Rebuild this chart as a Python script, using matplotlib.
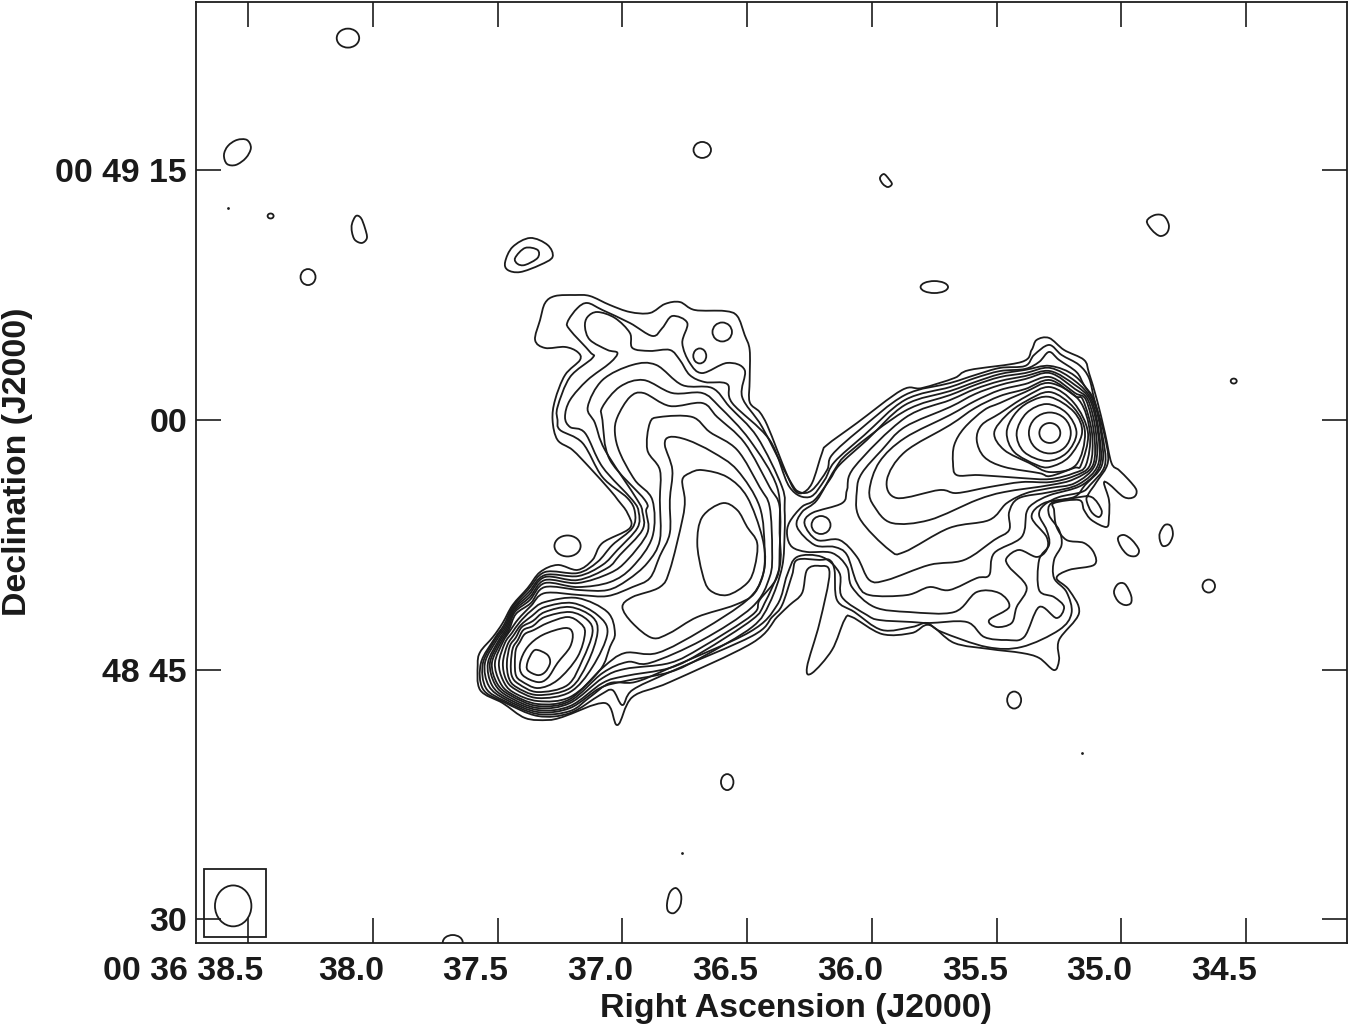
#!/usr/bin/env python3
import numpy as np
import matplotlib
matplotlib.use('Agg')
import matplotlib.pyplot as plt
from matplotlib.path import Path
from matplotlib.patches import PathPatch, Ellipse, Rectangle
from matplotlib.transforms import ScaledTranslation

plt.rcParams['font.family'] = ['Liberation Sans', 'DejaVu Sans']
plt.rcParams['font.weight'] = 'bold'

# isophotes: (RA seconds past 00 36, Dec arcsec from 00 49 00)
# the three outer levels run round both lobes
LEVEL_1 = [(37.31,7.03),(37.27,7.45),(37.19,7.51),(37.13,7.45),(37.05,6.91),(36.97,6.49),(36.89,6.43),(36.83,6.97),(36.77,7.09),(36.71,6.61),(36.59,6.55),(36.54,6.25),(36.51,5.11),(36.49,4.21),(36.49,2.40),(36.49,1.08),(36.45,0.48),(36.42,-0.30),(36.38,-1.80),(36.34,-3.31),(36.31,-4.21),(36.28,-4.39),(36.24,-3.79),(36.20,-1.98),(36.18,-1.50),(36.06,-0.18),(35.88,1.80),(35.80,1.92),(35.67,2.52),(35.61,3.00),(35.40,3.49),(35.36,4.21),(35.34,4.81),(35.29,4.93),(35.23,4.21),(35.15,3.61),(35.13,2.82),(35.098,1.20),(35.066,-0.78),(35.04,-2.58),(35.01,-3.01),(34.97,-3.61),(34.94,-4.21),(34.95,-4.63),(34.99,-4.63),(35.05,-3.85),(35.07,-3.79),(35.05,-4.81),(35.05,-5.83),(35.06,-6.43),(35.12,-6.01),(35.15,-5.41),(35.17,-4.81),(35.27,-4.99),(35.27,-5.41),(35.26,-6.43),(35.22,-7.21),(35.15,-7.39),(35.11,-7.99),(35.11,-8.71),(35.21,-9.01),(35.26,-9.50),(35.21,-10.22),(35.17,-11.60),(35.25,-13.22),(35.25,-14.42),(35.27,-15.03),(35.33,-14.30),(35.40,-14.00),(35.53,-13.76),(35.67,-13.40),(35.77,-12.32),(35.84,-12.80),(35.96,-12.86),(36.08,-11.84),(36.11,-12.02),(36.16,-13.82),(36.24,-15.21),(36.26,-14.84),(36.21,-12.20),(36.17,-9.20),(36.21,-8.77),(36.26,-9.01),(36.28,-10.40),(36.33,-11.12),(36.38,-11.84),(36.48,-13.40),(36.81,-15.75),(36.96,-16.65),(37.02,-18.33),(37.07,-17.01),(37.24,-17.85),(37.30,-18.03),(37.39,-17.91),(37.48,-17.01),(37.57,-16.23),(37.58,-14.72),(37.57,-13.94),(37.519,-13.04),(37.48,-12.20),(37.44,-11.12),(37.38,-10.10),(37.33,-9.14),(37.26,-8.71),(37.18,-9.01),(37.12,-8.41),(37.08,-7.39),(36.97,-6.49),(36.98,-5.59),(37.018,-4.81),(37.05,-4.21),(37.13,-2.88),(37.20,-1.80),(37.26,-1.20),(37.28,0.0),(37.27,1.20),(37.23,2.70),(37.17,3.61),(37.18,4.09),(37.23,4.39),(37.31,4.33),(37.35,4.81),(37.33,6.01)]
LEVEL_2 = [(37.22,5.89),(37.18,6.73),(37.14,7.03),(37.08,6.61),(36.97,5.83),(36.88,5.05),(36.84,5.53),(36.80,6.25),(36.74,5.83),(36.76,4.63),(36.73,3.43),(36.68,2.82),(36.58,3.43),(36.51,3.00),(36.52,1.38),(36.44,-0.42),(36.33,-3.61),(36.29,-4.33),(36.24,-4.21),(36.18,-3.01),(36.16,-2.10),(36.05,-0.60),(35.868,1.50),(35.687,2.22),(35.587,2.70),(35.487,3.13),(35.386,3.25),(35.35,3.91),(35.29,4.51),(35.24,3.91),(35.17,3.31),(35.13,2.52),(35.108,1.20),(35.07,-0.78),(35.054,-2.52),(35.10,-3.73),(35.13,-4.39),(35.14,-4.81),(35.12,-5.53),(35.09,-5.83),(35.08,-5.41),(35.12,-4.63),(35.19,-4.69),(35.28,-4.99),(35.29,-5.71),(35.25,-6.61),(35.24,-7.51),(35.27,-8.41),(35.27,-9.50),(35.22,-10.34),(35.20,-11.60),(35.25,-12.62),(35.40,-13.64),(35.54,-13.64),(35.72,-12.74),(35.78,-12.20),(35.84,-12.44),(35.96,-12.62),(36.07,-11.54),(36.14,-10.82),(36.15,-9.01),(36.17,-8.41),(36.21,-8.41),(36.30,-8.41),(36.32,-9.32),(36.36,-11.12),(36.40,-11.84),(36.48,-12.98),(36.81,-15.15),(36.96,-16.23),(37.00,-17.13),(37.04,-16.23),(37.09,-16.53),(37.21,-17.61),(37.339,-17.79),(37.475,-16.95),(37.559,-16.17),(37.567,-14.60),(37.511,-13.10),(37.475,-12.32),(37.439,-11.21),(37.379,-10.22),(37.311,-9.14),(37.18,-9.20),(37.10,-8.53),(37.04,-7.51),(36.96,-6.49),(36.95,-5.53),(36.98,-4.69),(37.08,-3.43),(37.16,-1.38),(37.25,-0.60),(37.26,0.0),(37.26,0.78),(37.21,2.58),(37.12,3.73),(37.13,4.09),(37.21,5.41)]
LEVEL_3 = [(37.15,5.59),(37.14,6.19),(37.10,6.49),(37.03,6.13),(36.97,5.23),(36.96,4.33),(36.89,4.15),(36.81,4.21),(36.77,3.61),(36.73,2.70),(36.67,2.28),(36.58,2.16),(36.56,1.02),(36.41,-1.20),(36.33,-4.03),(36.25,-4.63),(36.19,-3.61),(36.15,-2.52),(36.03,-0.90),(35.868,1.20),(35.687,1.98),(35.587,2.52),(35.487,2.94),(35.386,3.07),(35.33,3.49),(35.29,4.09),(35.25,3.61),(35.18,2.88),(35.15,2.10),(35.11,1.20),(35.078,-0.78),(35.066,-2.70),(35.126,-3.91),(35.16,-4.33),(35.25,-4.63),(35.31,-5.11),(35.33,-5.71),(35.30,-6.61),(35.29,-7.51),(35.33,-8.41),(35.33,-10.22),(35.27,-10.64),(35.23,-11.24),(35.26,-11.90),(35.33,-11.24),(35.39,-13.04),(35.46,-13.22),(35.55,-13.04),(35.62,-12.14),(35.77,-12.20),(35.84,-12.14),(35.97,-12.02),(36.02,-11.72),(36.12,-10.64),(36.13,-9.20),(36.20,-8.23),(36.30,-8.23),(36.34,-9.32),(36.38,-11.12),(36.49,-12.74),(36.81,-14.90),(36.95,-15.75),(37.05,-15.81),(37.13,-16.65),(37.21,-17.49),(37.339,-17.67),(37.471,-16.89),(37.547,-16.11),(37.559,-14.60),(37.507,-13.13),(37.471,-12.38),(37.437,-11.30),(37.375,-10.34),(37.311,-9.32),(37.178,-9.38),(37.08,-8.71),(37.02,-7.81),(36.94,-6.49),(36.935,-5.53),(36.96,-4.81),(37.08,-2.82),(37.15,-0.78),(37.21,-0.42),(37.23,0.18),(37.21,1.20),(37.14,2.40),(37.05,3.43),(37.02,4.03),(37.06,4.21),(37.13,4.81)]
# levels that close round one lobe only, eastern lobe first
EAST_4 = [(37.139,0.78),(37.08,2.40),(36.96,3.31),(36.865,3.31),(36.76,2.10),(36.64,1.92),(36.57,0.78),(36.46,-1.02),(36.36,-4.03),(36.35,-5.41),(36.35,-6.79),(36.36,-8.83),(36.41,-11.00),(36.48,-12.44),(36.68,-14.24),(36.81,-15.15),(36.99,-15.69),(37.09,-16.11),(37.21,-17.31),(37.339,-17.55),(37.467,-16.80),(37.535,-15.99),(37.551,-14.60),(37.501,-13.16),(37.467,-12.44),(37.435,-11.36),(37.375,-10.52),(37.311,-9.44),(37.18,-9.62),(37.06,-8.89),(37.01,-8.11),(36.92,-6.61),(36.92,-5.53),(36.94,-4.81),(37.07,-1.80),(37.11,-0.18)]
EAST_5 = [(37.08,0.78),(37.01,2.00),(36.915,2.40),(36.80,1.62),(36.68,1.62),(36.61,0.78),(36.49,-1.20),(36.38,-4.03),(36.37,-6.79),(36.37,-8.83),(36.43,-11.00),(36.48,-12.00),(36.68,-13.94),(36.81,-14.90),(36.99,-15.39),(37.08,-15.81),(37.21,-17.19),(37.339,-17.43),(37.463,-16.71),(37.523,-15.93),(37.539,-14.60),(37.495,-13.22),(37.463,-12.50),(37.433,-11.45),(37.371,-10.64),(37.311,-9.62),(37.18,-9.80),(37.05,-9.20),(36.98,-8.41),(36.90,-6.79),(36.905,-5.50),(36.91,-4.81),(37.05,-2.40),(37.08,0.0)]
EAST_6 = [(37.02,0.18),(36.97,1.38),(36.915,1.62),(36.81,0.84),(36.68,1.02),(36.62,0.18),(36.51,-1.38),(36.41,-4.03),(36.37,-5.21),(36.37,-7.81),(36.38,-9.44),(36.45,-10.82),(36.48,-11.72),(36.68,-13.64),(36.81,-14.60),(36.99,-14.96),(37.08,-15.51),(37.21,-17.01),(37.339,-17.31),(37.457,-16.62),(37.511,-15.87),(37.531,-14.60),(37.491,-13.28),(37.459,-12.56),(37.431,-11.54),(37.371,-10.82),(37.311,-9.80),(37.18,-10.04),(37.05,-9.74),(36.96,-8.83),(36.88,-7.03),(36.88,-4.81),(36.95,-3.61),(37.01,-1.98),(37.03,-0.78)]
EAST_7 = [(36.89,-0.18),(36.85,0.18),(36.72,0.18),(36.65,-0.72),(36.54,-1.80),(36.45,-4.03),(36.41,-5.21),(36.40,-7.81),(36.41,-9.44),(36.48,-11.24),(36.68,-13.22),(36.89,-14.60),(36.98,-14.54),(37.08,-15.21),(37.21,-16.89),(37.339,-17.19),(37.451,-16.53),(37.503,-15.81),(37.523,-14.60),(37.485,-13.31),(37.455,-12.62),(37.427,-11.66),(37.367,-11.00),(37.311,-10.04),(37.17,-10.22),(37.06,-10.22),(36.98,-9.62),(36.90,-8.59),(36.85,-7.21),(36.85,-4.81),(36.85,-3.00),(36.90,-1.80)]
EAST_8 = [(36.81,-1.02),(36.74,-1.20),(36.64,-1.92),(36.54,-3.01),(36.45,-5.21),(36.43,-7.81),(36.44,-9.44),(36.50,-10.82),(36.68,-12.62),(36.86,-14.00),(36.99,-14.00),(37.08,-14.90),(37.21,-16.77),(37.339,-17.07),(37.447,-16.44),(37.491,-15.75),(37.511,-14.60),(37.479,-13.34),(37.451,-12.68),(37.417,-11.96),(37.367,-11.18),(37.311,-10.40),(37.17,-10.52),(37.06,-10.58),(36.96,-10.04),(36.89,-9.50),(36.85,-8.17),(36.81,-6.79),(36.81,-4.81),(36.80,-3.00),(36.83,-1.50)]
EAST_9 = [(36.68,-3.01),(36.58,-3.43),(36.50,-4.63),(36.44,-7.03),(36.43,-8.83),(36.47,-10.40),(36.55,-11.12),(36.70,-11.84),(36.81,-12.80),(36.88,-13.10),(36.96,-12.20),(37.00,-11.24),(36.96,-10.64),(36.85,-10.04),(36.81,-9.01),(36.76,-6.01),(36.75,-4.81),(36.76,-3.61),(36.73,-3.19)]
EAST_10 = [(36.60,-5.00),(36.54,-5.41),(36.50,-6.43),(36.46,-7.39),(36.47,-8.83),(36.50,-9.80),(36.58,-10.52),(36.65,-10.22),(36.68,-9.20),(36.70,-7.39),(36.68,-5.83)]
# eastern hot spot, outer ring to inner ring
EAST_SPOT_9 = [(37.03,-12.80),(37.05,-13.64),(37.09,-15.03),(37.21,-16.65),(37.339,-16.89),(37.439,-16.35),(37.479,-15.63),(37.495,-14.60),(37.471,-13.40),(37.443,-12.80),(37.411,-12.14),(37.367,-11.48),(37.311,-10.94),(37.18,-10.70),(37.06,-11.54)]
EAST_SPOT_10 = [(37.06,-12.80),(37.12,-14.84),(37.21,-16.35),(37.339,-16.71),(37.431,-16.17),(37.467,-15.57),(37.479,-14.60),(37.461,-13.52),(37.435,-12.92),(37.407,-12.32),(37.363,-11.78),(37.311,-11.24),(37.20,-11.00),(37.10,-11.72)]
EAST_SPOT_11 = [(37.10,-12.80),(37.14,-14.60),(37.21,-16.11),(37.339,-16.53),(37.425,-16.05),(37.455,-15.51),(37.463,-14.60),(37.451,-13.58),(37.427,-13.07),(37.403,-12.44),(37.359,-12.08),(37.311,-11.54),(37.21,-11.24),(37.12,-11.84)]
EAST_SPOT_12 = [(37.12,-12.80),(37.16,-14.42),(37.22,-15.93),(37.339,-16.35),(37.415,-15.87),(37.443,-15.39),(37.447,-14.60),(37.439,-13.70),(37.419,-13.22),(37.397,-12.62),(37.359,-12.38),(37.311,-11.84),(37.21,-11.54),(37.14,-12.02)]
EAST_SPOT_13 = [(37.15,-12.80),(37.18,-14.24),(37.26,-15.63),(37.339,-16.11),(37.405,-15.69),(37.427,-15.33),(37.431,-14.60),(37.427,-13.79),(37.411,-13.34),(37.391,-12.86),(37.355,-12.62),(37.30,-12.20),(37.22,-11.84),(37.17,-12.20)]
EAST_SPOT_14 = [(37.23,-12.50),(37.20,-12.80),(37.21,-13.64),(37.26,-14.60),(37.30,-15.51),(37.34,-15.75),(37.40,-15.33),(37.41,-14.60),(37.38,-13.64),(37.32,-12.92)]
EAST_SPOT_15 = [(37.34,-13.82),(37.30,-14.12),(37.29,-14.60),(37.31,-15.15),(37.34,-15.33),(37.38,-15.03),(37.38,-14.54),(37.36,-13.94)]
# western lobe
WEST_4 = [(36.34,-6.91),(36.33,-6.13),(36.28,-5.21),(36.23,-4.81),(36.17,-3.61),(36.13,-2.70),(36.02,-1.20),(35.868,0.90),(35.687,1.74),(35.587,2.28),(35.487,2.76),(35.386,3.01),(35.286,3.25),(35.186,2.64),(35.114,1.20),(35.082,-0.78),(35.078,-2.70),(35.146,-3.91),(35.19,-4.63),(35.31,-4.99),(35.36,-5.83),(35.30,-7.03),(35.30,-7.81),(35.34,-8.23),(35.41,-7.81),(35.46,-8.29),(35.45,-8.83),(35.38,-10.04),(35.42,-11.24),(35.44,-12.20),(35.50,-12.44),(35.53,-12.02),(35.45,-11.24),(35.49,-10.40),(35.58,-10.34),(35.67,-11.54),(35.85,-11.54),(35.99,-11.24),(36.08,-10.04),(36.10,-8.83),(36.16,-7.99),(36.26,-7.93),(36.32,-7.63)]
WEST_5 = [(36.30,-6.43),(36.28,-5.53),(36.22,-4.81),(36.15,-3.00),(36.09,-1.92),(35.868,0.54),(35.687,1.50),(35.587,2.10),(35.487,2.58),(35.386,2.82),(35.286,3.13),(35.186,2.34),(35.12,1.20),(35.09,-0.78),(35.086,-2.70),(35.158,-3.91),(35.286,-4.51),(35.35,-4.99),(35.38,-5.53),(35.40,-7.03),(35.51,-8.00),(35.53,-9.32),(35.58,-9.50),(35.69,-10.22),(35.77,-10.04),(35.86,-10.52),(36.01,-10.52),(36.06,-9.80),(36.10,-8.11),(36.15,-7.63),(36.23,-7.51)]
WEST_6 = [(36.27,-6.25),(36.24,-5.59),(36.12,-5.00),(36.10,-4.21),(36.07,-2.82),(35.868,0.12),(35.687,1.20),(35.587,1.86),(35.487,2.34),(35.386,2.64),(35.286,2.94),(35.186,2.10),(35.126,1.20),(35.094,-0.78),(35.094,-2.70),(35.17,-3.85),(35.286,-4.33),(35.41,-4.69),(35.45,-5.53),(35.45,-6.61),(35.51,-7.21),(35.63,-8.41),(35.77,-8.71),(35.94,-9.62),(36.01,-9.62),(36.06,-8.23),(36.13,-7.21),(36.22,-7.21)]
WEST_7 = [(36.06,-4.21),(36.04,-3.19),(35.96,-1.80),(35.868,-0.42),(35.687,0.78),(35.587,1.56),(35.487,2.10),(35.386,2.46),(35.286,2.82),(35.186,1.86),(35.134,1.20),(35.102,-0.78),(35.106,-2.70),(35.186,-3.79),(35.286,-4.09),(35.38,-4.39),(35.46,-5.00),(35.53,-6.01),(35.69,-6.49),(35.87,-7.93),(35.93,-7.81),(36.05,-5.89)]
WEST_8 = [(36.01,-4.21),(35.99,-5.21),(35.92,-6.19),(35.77,-6.01),(35.58,-4.81),(35.47,-4.33),(35.286,-3.91),(35.19,-3.55),(35.114,-2.70),(35.11,-0.78),(35.142,1.20),(35.186,1.62),(35.286,2.58),(35.386,2.16),(35.487,1.80),(35.587,1.14),(35.687,0.30),(35.868,-1.08),(35.97,-2.52)]
WEST_9 = [(35.94,-3.61),(35.90,-4.69),(35.73,-4.21),(35.66,-4.39),(35.53,-4.03),(35.40,-3.73),(35.286,-3.73),(35.19,-3.37),(35.126,-2.70),(35.118,-0.78),(35.154,1.20),(35.186,1.44),(35.286,2.40),(35.386,1.86),(35.487,1.44),(35.587,0.72),(35.687,-0.30),(35.868,-1.92)]
WEST_10 = [(35.675,-2.58),(35.66,-3.31),(35.57,-3.31),(35.40,-3.49),(35.286,-3.55),(35.19,-3.19),(35.142,-2.70),(35.126,-0.78),(35.17,1.20),(35.286,2.22),(35.386,1.68),(35.487,1.02),(35.55,0.60),(35.63,-0.48),(35.67,-1.50)]
WEST_11 = [(35.58,-1.20),(35.55,-2.22),(35.47,-2.82),(35.33,-3.19),(35.286,-3.37),(35.19,-2.88),(35.162,-2.70),(35.134,-0.78),(35.19,1.02),(35.286,1.98),(35.386,1.38),(35.487,0.40),(35.56,-0.30)]
WEST_12 = [(35.51,-0.78),(35.47,-1.80),(35.37,-2.58),(35.286,-3.13),(35.182,-2.70),(35.146,-0.78),(35.19,0.72),(35.286,1.68),(35.386,1.10),(35.46,0.30)]
WEST_13 = [(35.46,-0.78),(35.43,-1.92),(35.34,-2.70),(35.286,-2.82),(35.21,-2.22),(35.158,-0.78),(35.19,0.48),(35.286,1.38),(35.37,1.08),(35.43,0.30)]
WEST_14 = [(35.42,-0.78),(35.39,-1.92),(35.30,-2.46),(35.22,-1.98),(35.18,-0.78),(35.22,0.42),(35.30,0.96),(35.38,0.42)]

# isolated closed contours traced the same way
BLOB_A = [(38.597,15.93),(38.581,16.47),(38.545,16.83),(38.505,16.83),(38.489,16.35),(38.509,15.75),(38.549,15.33),(38.585,15.39)]
BLOB_B = [(37.47,9.50),(37.44,10.40),(37.37,10.94),(37.30,10.52),(37.28,9.80),(37.33,9.32),(37.41,8.89),(37.46,9.02)]
BLOB_B_INNER = [(37.43,9.74),(37.39,10.34),(37.34,10.22),(37.34,9.74),(37.39,9.32),(37.42,9.38)]
BLOB_C = [(34.898,11.96),(34.866,12.32),(34.83,12.26),(34.81,11.72),(34.818,11.24),(34.846,11.06),(34.878,11.42)]
BLOB_D = [(35.014,-7.09),(34.99,-6.91),(34.958,-7.21),(34.93,-7.81),(34.942,-8.17),(34.974,-8.11),(35.002,-7.63)]
BLOB_E = [(35.03,-10.34),(35.014,-9.86),(34.986,-9.86),(34.962,-10.52),(34.962,-11.00),(34.986,-11.12),(35.014,-10.88)]
BLOB_F = [(34.846,-6.79),(34.826,-6.31),(34.802,-6.37),(34.794,-6.91),(34.81,-7.45),(34.834,-7.57),(34.846,-7.21)]
BLOB_G = [(36.821,-29.03),(36.809,-28.37),(36.785,-28.13),(36.765,-28.55),(36.769,-29.21),(36.793,-29.63),(36.817,-29.51)]
BLOB_H = [(38.084,11.78),(38.068,12.26),(38.048,12.14),(38.032,11.54),(38.024,10.94),(38.044,10.64),(38.072,10.82),(38.084,11.30)]
BLOB_I = [(35.968,14.54),(35.952,14.78),(35.932,14.48),(35.92,14.18),(35.936,14.00),(35.956,14.18)]
TRACED_BLOBS = [BLOB_A, BLOB_B, BLOB_B_INNER, BLOB_C, BLOB_D, BLOB_E, BLOB_F, BLOB_G, BLOB_H, BLOB_I]

# small round contours: centre and full widths (s, arcsec)
ROUND_RA = [38.10, 36.68, 38.26, 38.41, 35.75, 34.55, 37.22, 34.65, 35.43, 36.58, 36.60, 36.69, 36.204, 37.68, 35.287, 35.287]
ROUND_DEC = [22.95, 16.23, 8.59, 12.26, 7.99, 2.34, -7.57, -9.98, -16.83, -21.76, 5.29, 3.85, -6.31, -31.4, -0.78, -0.78]
ROUND_W = [0.09, 0.07, 0.06, 0.024, 0.11, 0.024, 0.105, 0.05, 0.056, 0.05, 0.078, 0.052, 0.076, 0.08, 0.168, 0.084]
ROUND_H = [1.14, 0.96, 0.96, 0.30, 0.72, 0.30, 1.26, 0.78, 1.02, 0.96, 1.14, 0.90, 1.08, 0.9, 2.46, 1.20]

# point-like contours
DOT_RA = [38.58, 36.76, 35.16]
DOT_DEC = [12.74, -26.0, -20.0]

# restoring beam and its box
BEAM_RA, BEAM_DEC, BEAM_W, BEAM_H = 38.56, -29.2, 0.146, 2.46
BOX_RA = [38.677, 38.43]
BOX_DEC = [-27.0, -31.05]

CONTOURS = [LEVEL_1, LEVEL_2, LEVEL_3, EAST_4, EAST_5, EAST_6, EAST_7, EAST_8, EAST_9, EAST_10,
            EAST_SPOT_9, EAST_SPOT_10, EAST_SPOT_11, EAST_SPOT_12, EAST_SPOT_13, EAST_SPOT_14, EAST_SPOT_15,
            WEST_4, WEST_5, WEST_6, WEST_7, WEST_8, WEST_9, WEST_10, WEST_11, WEST_12, WEST_13, WEST_14]

RA_TICKS = [38.5, 38.0, 37.5, 37.0, 36.5, 36.0, 35.5, 35.0, 34.5]
RA_LABELS = ['00 36 38.5', '38.0', '37.5', '37.0', '36.5', '36.0', '35.5', '35.0', '34.5']
DEC_TICKS = [15, 0, -15, -30]
DEC_LABELS = ['00 49 15', '00', '48 45', '30']

INK = '#1c1c1c'
LW = 1.3


def closed_curve(points):
    # smooth closed line through the traced points, as cubic segments
    p = np.array(points, dtype=float)
    verts = [p[0]]
    codes = [Path.MOVETO]
    n = len(p)
    for i in range(n):
        c1 = p[i] + (p[(i + 1) % n] - p[i - 1]) / 6
        c2 = p[(i + 1) % n] - (p[(i + 2) % n] - p[i]) / 6
        verts += [c1, c2, p[(i + 1) % n]]
        codes += [Path.CURVE4] * 3
    return Path(verts, codes)


fig = plt.figure(figsize=(13.5, 10.27), dpi=100)
ax = fig.add_axes([196 / 1350, 1 - 943 / 1027, (1347 - 196) / 1350, (943 - 2) / 1027])
ax.set_xlim(38.709, 34.096)
ax.set_ylim(-31.43, 25.12)

for line in CONTOURS + TRACED_BLOBS:
    ax.add_patch(PathPatch(closed_curve(line), fill=False, edgecolor=INK, linewidth=LW))

for ra, dec, w, h in zip(ROUND_RA, ROUND_DEC, ROUND_W, ROUND_H):
    ax.add_patch(Ellipse((ra, dec), w, h, fill=False, edgecolor=INK, linewidth=LW))

ax.plot(DOT_RA, DOT_DEC, 'o', color=INK, markersize=2, markeredgewidth=0)

ax.add_patch(Rectangle((BOX_RA[0], BOX_DEC[0]), BOX_RA[1] - BOX_RA[0], BOX_DEC[1] - BOX_DEC[0],
                       fill=False, edgecolor=INK, linewidth=LW))
ax.add_patch(Ellipse((BEAM_RA, BEAM_DEC), BEAM_W, BEAM_H, fill=False, edgecolor=INK, linewidth=LW))

ax.set_xticks(RA_TICKS)
ax.set_xticklabels(RA_LABELS, fontsize=24.4, fontweight='bold', color='#1a1a1a')
ax.set_yticks(DEC_TICKS)
ax.set_yticklabels(DEC_LABELS, fontsize=24.4, fontweight='bold', color='#1a1a1a')
ax.tick_params(axis='both', direction='in', length=18, width=1.2, color=INK, top=True, right=True)
ax.tick_params(axis='x', pad=9.5)
ax.tick_params(axis='y', pad=6.5)

# the ra labels sit left of their ticks
for i, lab in enumerate(ax.get_xticklabels()):
    if i == 0:
        lab.set_ha('right')
        lab.set_transform(lab.get_transform() + ScaledTranslation(0.15, 0, fig.dpi_scale_trans))
    else:
        lab.set_transform(lab.get_transform() + ScaledTranslation(-0.22, 0, fig.dpi_scale_trans))

for side in ax.spines.values():
    side.set_linewidth(1.3)
    side.set_color(INK)

fig.text(796 / 1350, 1 - 1008 / 1027, 'Right Ascension (J2000)', fontsize=24.4, fontweight='bold',
         ha='center', va='center', color='#1a1a1a')
fig.text(18 / 1350, 1 - 462 / 1027, 'Declination (J2000)', fontsize=24.4, fontweight='bold',
         rotation=90, ha='center', va='center', color='#1a1a1a')

plt.savefig('out.png', dpi=100)
plt.close()
